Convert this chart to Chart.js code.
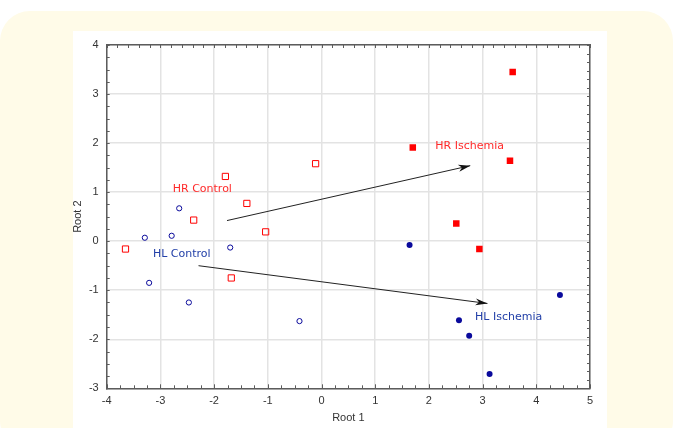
<!DOCTYPE html>
<html>
<head>
<meta charset="utf-8">
<script src="https://cdn.jsdelivr.net/npm/chart.js@4"></script>
<style>
  html, body { margin: 0; padding: 0; background: #ffffff; }
  #wrap { width: 674px; height: 428px; }
</style>
</head>
<body>
<div id="wrap"><canvas id="rootChart" width="674" height="428"></canvas></div>
<script>
// group scores (Root 1, Root 2)
const hrControlX = [-2.38, -1.79, -1.39, -0.11, -3.65, -1.04, -1.68];
const hrControlY = [0.43, 1.32, 0.77, 1.58, -0.16, 0.19, -0.75];
const hlControlX = [-2.65, -3.29, -2.79, -1.70, -3.21, -2.47, -0.41];
const hlControlY = [0.67, 0.07, 0.11, -0.13, -0.85, -1.25, -1.63];
const hrIschemiaX = [3.56, 1.70, 3.51, 2.51, 2.94];
const hrIschemiaY = [3.45, 1.91, 1.64, 0.36, -0.16];
const hlIschemiaX = [1.64, 4.44, 2.56, 2.75, 3.13];
const hlIschemiaY = [-0.08, -1.10, -1.61, -1.93, -2.71];

// arrows control -> ischemia
const arrowHR = [{ x: -1.76, y: 0.42 }, { x: 2.77, y: 1.54 }];
const arrowHL = [{ x: -2.29, y: -0.50 }, { x: 3.09, y: -1.27 }];

// group labels
const groupLabels = [
  { text: "HR Control", x: -2.77, y: 1.06, color: "#ff2a2a" },
  { text: "HR Ischemia", x: 2.12, y: 1.94, color: "#ff2a2a" },
  { text: "HL Control", x: -3.14, y: -0.26, color: "#2340a8" },
  { text: "HL Ischemia", x: 2.86, y: -1.55, color: "#2340a8" }
];

const xTicks = [-4, -3, -2, -1, 0, 1, 2, 3, 4, 5];
const yTicks = [-3, -2, -1, 0, 1, 2, 3, 4];

const toPoints = (xs, ys) => xs.map((x, i) => ({ x, y: ys[i] }));

const RED = "#ff0000";
const BLUE = "#0a0a9c";
const AXIS = "#5c5c5c";

const backdrop = {
  id: "backdrop",
  beforeDraw(chart) {
    const ctx = chart.ctx;
    ctx.save();
    ctx.fillStyle = "#fffbe8";
    ctx.beginPath();
    ctx.roundRect(0, 11, 673, 440, 30);
    ctx.fill();
    ctx.fillStyle = "#ffffff";
    ctx.fillRect(73, 31, 534, 400);
    ctx.restore();
  }
};

// inward minor ticks on the frame, arrowheads and group labels
const extras = {
  id: "extras",
  afterDatasetsDraw(chart) {
    const ctx = chart.ctx;
    const xs = chart.scales.x, ys = chart.scales.y;
    const a = chart.chartArea;
    ctx.save();
    ctx.strokeStyle = AXIS;
    ctx.lineWidth = 1;
    ctx.beginPath();
    for (let v = -4; v <= 5.001; v += 0.25) {
      const px = Math.round(xs.getPixelForValue(v)) + 0.5;
      const len = Math.abs(v - Math.round(v)) < 0.01 ? 4 : 3;
      ctx.moveTo(px, a.bottom); ctx.lineTo(px, a.bottom - len);
    }
    for (let v = -4; v <= 5.001; v += 0.2) {
      const px = Math.round(xs.getPixelForValue(v)) + 0.5;
      ctx.moveTo(px, a.top); ctx.lineTo(px, a.top + 3);
    }
    for (let v = -3; v <= 4.001; v += 0.25) {
      const py = Math.round(ys.getPixelForValue(v)) + 0.5;
      ctx.moveTo(a.left, py); ctx.lineTo(a.left + 3, py);
    }
    for (let v = -3; v <= 4.001; v += 0.175) {
      const py = Math.round(ys.getPixelForValue(v)) + 0.5;
      ctx.moveTo(a.right, py); ctx.lineTo(a.right - 3, py);
    }
    ctx.stroke();

    [arrowHR, arrowHL].forEach(arr => {
      const x0 = xs.getPixelForValue(arr[0].x), y0 = ys.getPixelForValue(arr[0].y);
      const x1 = xs.getPixelForValue(arr[1].x), y1 = ys.getPixelForValue(arr[1].y);
      const ang = Math.atan2(y1 - y0, x1 - x0);
      const L = 12, W = 3.5;
      ctx.fillStyle = "#111";
      ctx.beginPath();
      ctx.moveTo(x1, y1);
      ctx.lineTo(x1 - L * Math.cos(ang) + W * Math.sin(ang), y1 - L * Math.sin(ang) - W * Math.cos(ang));
      ctx.lineTo(x1 - L * 0.7 * Math.cos(ang), y1 - L * 0.7 * Math.sin(ang));
      ctx.lineTo(x1 - L * Math.cos(ang) - W * Math.sin(ang), y1 - L * Math.sin(ang) + W * Math.cos(ang));
      ctx.closePath();
      ctx.fill();
    });

    ctx.font = "11px 'DejaVu Sans'";
    ctx.textAlign = "left";
    ctx.textBaseline = "middle";
    groupLabels.forEach(l => {
      ctx.fillStyle = l.color;
      ctx.fillText(l.text, xs.getPixelForValue(l.x), ys.getPixelForValue(l.y));
    });
    ctx.restore();
  }
};

const tickFont = { family: "'Liberation Sans', Arial, sans-serif", size: 11 };

new Chart(document.getElementById("rootChart"), {
  type: "scatter",
  data: {
    datasets: [
      { label: "HR Control", data: toPoints(hrControlX, hrControlY), pointStyle: "rect",
        pointRadius: 4.4, borderColor: RED, backgroundColor: "rgba(0,0,0,0)", borderWidth: 1 },
      { label: "HL Control", data: toPoints(hlControlX, hlControlY), pointStyle: "circle",
        pointRadius: 2.6, borderColor: BLUE, backgroundColor: "rgba(0,0,0,0)", borderWidth: 1 },
      { label: "HR Ischemia", data: toPoints(hrIschemiaX, hrIschemiaY), pointStyle: "rect",
        pointRadius: 4.6, borderColor: RED, backgroundColor: RED, borderWidth: 0 },
      { label: "HL Ischemia", data: toPoints(hlIschemiaX, hlIschemiaY), pointStyle: "circle",
        pointRadius: 3, borderColor: BLUE, backgroundColor: BLUE, borderWidth: 0 },
      { label: "HR shift", data: arrowHR, showLine: true, pointRadius: 0,
        borderColor: "#222", borderWidth: 1 },
      { label: "HL shift", data: arrowHL, showLine: true, pointRadius: 0,
        borderColor: "#222", borderWidth: 1 }
    ]
  },
  options: {
    responsive: false,
    animation: false,
    layout: { padding: { left: 71, right: 84, top: 45, bottom: 3 } },
    plugins: { legend: { display: false }, tooltip: { enabled: false } },
    scales: {
      x: {
        type: "linear", min: -4, max: 5,
        afterBuildTicks: s => { s.ticks = xTicks.map(v => ({ value: v })); },
        afterFit: s => { s.height = 36.7; },
        ticks: { color: "#333", font: tickFont, padding: 6 },
        grid: { color: "#e3e3e3", lineWidth: 1.5, drawTicks: false },
        border: { color: AXIS, width: 1.5 },
        title: { display: true, text: "Root 1", color: "#333", font: tickFont, padding: 0 }
      },
      y: {
        type: "linear", min: -3, max: 4,
        afterBuildTicks: s => { s.ticks = yTicks.map(v => ({ value: v })); },
        afterFit: s => { s.width = 35.7; },
        ticks: { color: "#333", font: tickFont, padding: 8 },
        grid: { color: "#e3e3e3", lineWidth: 1.5, drawTicks: false },
        border: { color: AXIS, width: 1.5 },
        title: { display: true, text: "Root 2", color: "#333", font: tickFont, padding: 0 }
      },
      x2: {
        type: "linear", position: "top", min: -4, max: 5,
        ticks: { display: false }, grid: { display: false, drawTicks: false },
        border: { color: AXIS, width: 1.5 },
        afterFit: s => { s.height = 0; }
      },
      y2: {
        type: "linear", position: "right", min: -3, max: 4,
        ticks: { display: false }, grid: { display: false, drawTicks: false },
        border: { color: AXIS, width: 1.5 },
        afterFit: s => { s.width = 0; }
      }
    }
  },
  plugins: [backdrop, extras]
});
</script>
</body>
</html>
